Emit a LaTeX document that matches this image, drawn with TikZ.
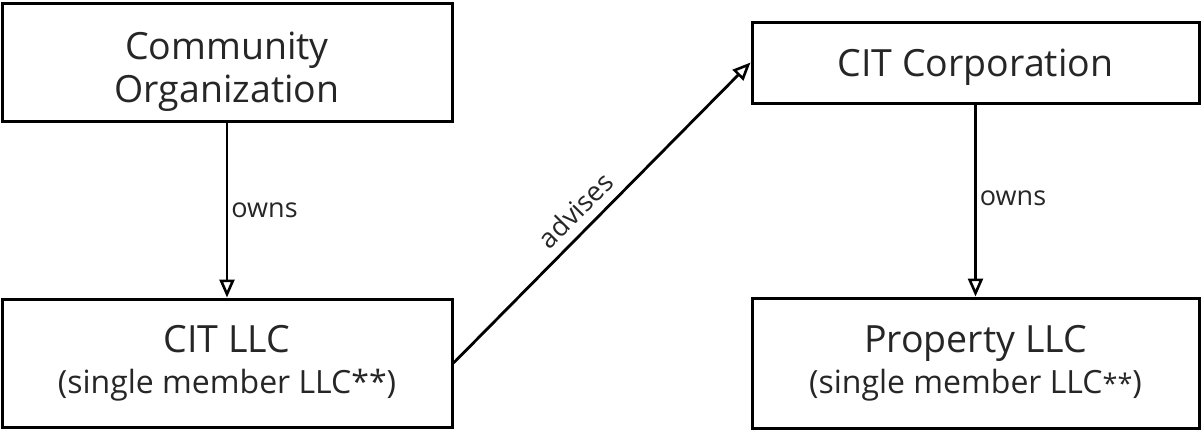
\documentclass[tikz,border=0pt]{standalone}
\usepackage{fontspec}
\setmainfont{Open Sans}
\usetikzlibrary{arrows.meta}
\tikzset{
  entity/.style={draw=black, line width=3pt, fill=white, align=center, inner sep=0pt,
    font=\fontsize{37.5}{43}\selectfont, text=black!85},
  rel/.style={draw=black, line width=2.8pt,
    -{Triangle[length=18pt, width=15pt, fill=white, line width=2.6pt]}},
  lbl/.style={font=\fontsize{27}{29}\selectfont, text=black!85, inner sep=3pt},
}
\newcommand{\subline}[1]{{\fontsize{32}{35}\selectfont #1}}
\begin{document}
\begin{tikzpicture}[x=1pt, y=-1pt]
  \useasboundingbox (0,0) rectangle (1201,431);
  \node[entity, minimum width=450pt, minimum height=118pt, text depth=0pt] (org) at (227,62)
    {\rule{0pt}{37pt}Community\\Organization};
  \node[entity, minimum width=450pt, minimum height=128pt] (citllc) at (227,363)
    {CIT LLC\\[-2pt]\subline{(single member LLC**)}};
  \node[entity, minimum width=447pt, minimum height=81pt, text depth=0pt] (corp) at (975.5,62.5)
    {CIT Corporation};
  \node[entity, minimum width=447pt, minimum height=130pt] (prop) at (975.5,363)
    {Property LLC\\[-2pt]\subline{(single member LLC{\fontsize{27}{27}\selectfont**})}};
  \draw[rel] (org.south) -- node[lbl, right, pos=0.5] (l1) {owns} (citllc.north);
  \draw[rel] (corp.south) -- node[lbl, right, pos=0.49] (l2) {owns} (prop.north);
  \draw[rel] (citllc.east) -- node[lbl, sloped, above=6pt, pos=0.46] (l3) {advises} (corp.west);
\end{tikzpicture}
\end{document}
